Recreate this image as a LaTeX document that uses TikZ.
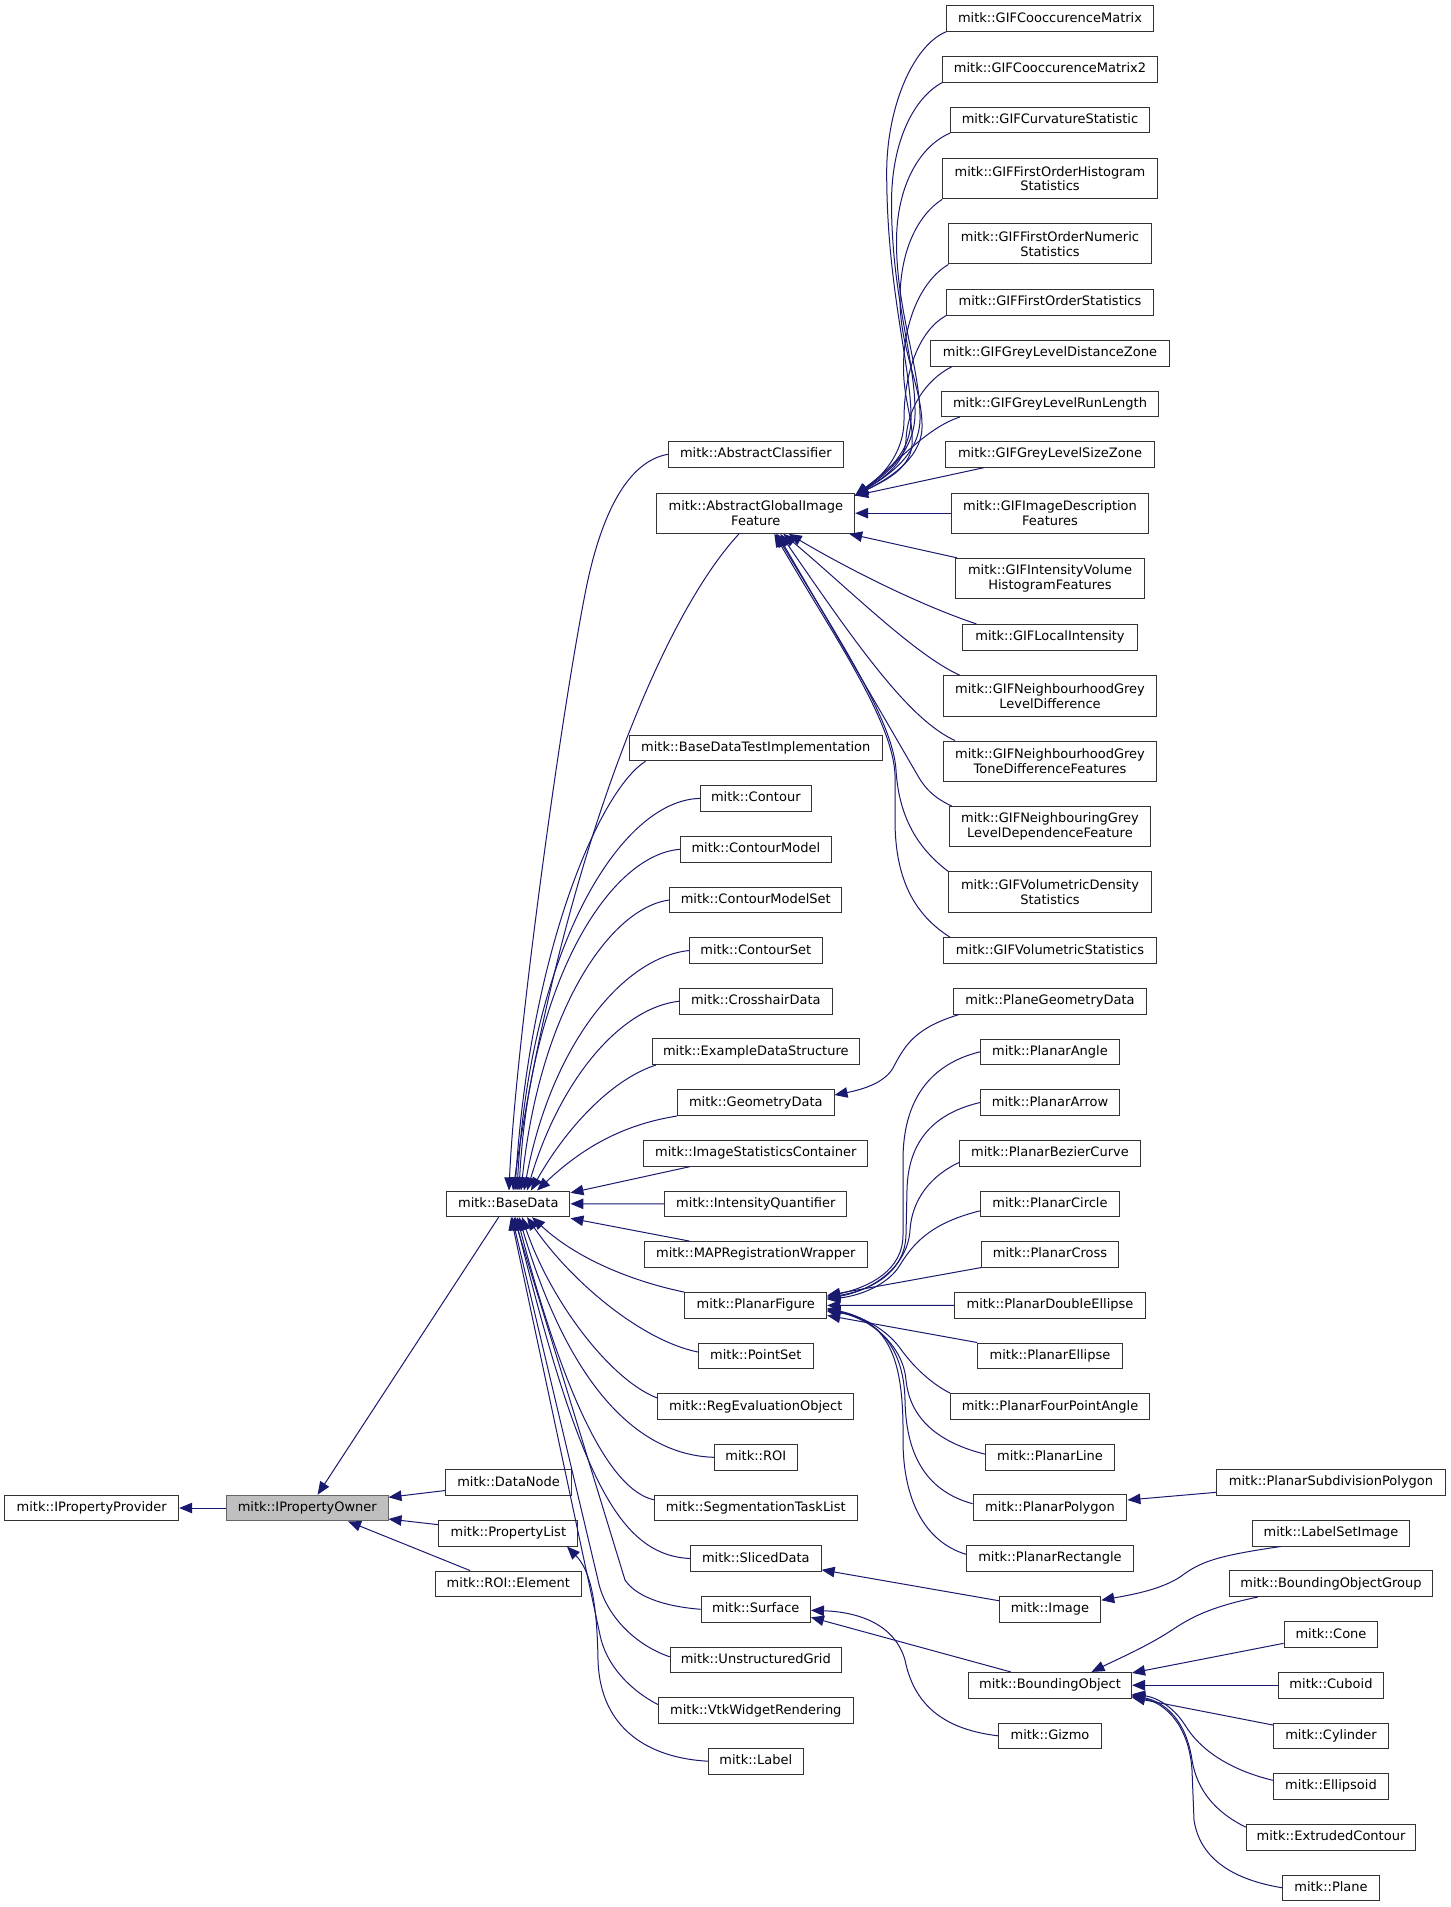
\documentclass[tikz,border=0pt]{standalone}
\usepackage{fontspec}
\setmainfont{DejaVu Sans}
\usetikzlibrary{arrows.meta}
\definecolor{mblue}{HTML}{191970}
\definecolor{bordc}{HTML}{333333}
\definecolor{rootfill}{HTML}{BFBFBF}
\definecolor{rootdraw}{HTML}{666666}
\begin{document}
\begin{tikzpicture}[x=1pt,y=-1pt,
  box/.style={draw=bordc, line width=1pt, fill=white, inner sep=0pt, minimum height=25.6pt,
    font=\fontsize{13pt}{14.7pt}\selectfont, text height=9.6pt, text depth=2.6pt},
  boxtwo/.style={draw=bordc, line width=1pt, fill=white, inner sep=0pt, minimum height=40.3pt,
    font=\fontsize{13pt}{14.7pt}\selectfont, align=center},
  edge/.style={draw=mblue, line width=1pt, -{Triangle[length=13pt,width=10.5pt]}}
]
\fill[white] (0,0) rectangle (1451,1907);
\useasboundingbox (0,0) rectangle (1451,1907);

% ---- column 1 / 2
\node[box, minimum width=174pt] (ipp) at (91.7,1508) {mitk::IPropertyProvider};
\node[box, fill=rootfill, draw=rootdraw, minimum width=161.4pt] (ipo) at (307.3,1508) {mitk::IPropertyOwner};
\node[box, minimum width=125.6pt] (datanode) at (508.6,1482.5) {mitk::DataNode};
\node[box, minimum width=138.9pt] (propertylist) at (508.4,1533.2) {mitk::PropertyList};
\node[box, minimum width=145.8pt] (roielement) at (508.4,1583.8) {mitk::ROI::Element};
\node[box, minimum width=123.3pt] (basedata) at (508.3,1203.8) {mitk::BaseData};

% ---- column 3
\node[box, minimum width=175pt] (abstractclassifier) at (755.8,454.3) {mitk::AbstractClassifier};
\node[boxtwo, minimum width=197.8pt] (agif) at (755.8,513.2) {mitk::AbstractGlobalImage\\Feature};
\node[box, minimum width=253.6pt] (bdti) at (755.8,748) {mitk::BaseDataTestImplementation};
\node[box, minimum width=110.7pt] (contour) at (755.8,798.4) {mitk::Contour};
\node[box, minimum width=151pt] (contourmodel) at (755.8,849.3) {mitk::ContourModel};
\node[box, minimum width=172.2pt] (contourmodelset) at (755.8,900) {mitk::ContourModelSet};
\node[box, minimum width=132.5pt] (contourset) at (755.8,950.5) {mitk::ContourSet};
\node[box, minimum width=152.5pt] (crosshairdata) at (755.8,1001.2) {mitk::CrosshairData};
\node[box, minimum width=206.8pt] (exampledatastructure) at (755.8,1051.7) {mitk::ExampleDataStructure};
\node[box, minimum width=156.4pt] (geometrydata) at (755.8,1102.7) {mitk::GeometryData};
\node[box, minimum width=224.3pt] (imagestatisticscontainer) at (755.8,1153.4) {mitk::ImageStatisticsContainer};
\node[box, minimum width=181.8pt] (intensityquantifier) at (755.8,1203.9) {mitk::IntensityQuantifier};
\node[box, minimum width=222.8pt] (mapregistrationwrapper) at (755.8,1254.4) {mitk::MAPRegistrationWrapper};
\node[box, minimum width=141.8pt] (planarfigure) at (755.8,1305.4) {mitk::PlanarFigure};
\node[box, minimum width=115pt] (pointset) at (755.8,1355.8) {mitk::PointSet};
\node[box, minimum width=196pt] (regevaluationobject) at (755.8,1406.5) {mitk::RegEvaluationObject};
\node[box, minimum width=82.8pt] (roi) at (755.8,1457.3) {mitk::ROI};
\node[box, minimum width=202.8pt] (segmentationtasklist) at (755.8,1507.8) {mitk::SegmentationTaskList};
\node[box, minimum width=130.7pt] (sliceddata) at (755.8,1558.5) {mitk::SlicedData};
\node[box, minimum width=109.3pt] (surface) at (755.8,1609.3) {mitk::Surface};
\node[box, minimum width=171pt] (unstructuredgrid) at (755.8,1659.8) {mitk::UnstructuredGrid};
\node[box, minimum width=195pt] (vtkwidgetrendering) at (755.8,1710.5) {mitk::VtkWidgetRendering};
\node[box, minimum width=95pt] (label) at (755.8,1761.2) {mitk::Label};

% ---- column 4
\node[box, minimum width=206.9pt] (gif1) at (1050,18.5) {mitk::GIFCooccurenceMatrix};
\node[box, minimum width=214.7pt] (gif2) at (1050,69.3) {mitk::GIFCooccurenceMatrix2};
\node[box, minimum width=198.9pt] (gif3) at (1050,119.8) {mitk::GIFCurvatureStatistic};
\node[boxtwo, minimum width=214.7pt] (gif4) at (1050,178.7) {mitk::GIFFirstOrderHistogram\\Statistics};
\node[boxtwo, minimum width=202.1pt] (gif5) at (1050,243.8) {mitk::GIFFirstOrderNumeric\\Statistics};
\node[box, minimum width=206.9pt] (gif6) at (1050,302.3) {mitk::GIFFirstOrderStatistics};
\node[box, minimum width=239pt] (gif7) at (1050,353.3) {mitk::GIFGreyLevelDistanceZone};
\node[box, minimum width=217.5pt] (gif8) at (1050,403.8) {mitk::GIFGreyLevelRunLength};
\node[box, minimum width=208.7pt] (gif9) at (1050,454.3) {mitk::GIFGreyLevelSizeZone};
\node[boxtwo, minimum width=197.8pt] (gif10) at (1050,513.2) {mitk::GIFImageDescription\\Features};
\node[boxtwo, minimum width=188.7pt] (gif11) at (1050,578.5) {mitk::GIFIntensityVolume\\HistogramFeatures};
\node[box, minimum width=174.3pt] (gif12) at (1050,637.2) {mitk::GIFLocalIntensity};
\node[boxtwo, minimum width=212.9pt] (gif13) at (1050,696) {mitk::GIFNeighbourhoodGrey\\LevelDifference};
\node[boxtwo, minimum width=212.9pt] (gif14) at (1050,761.2) {mitk::GIFNeighbourhoodGrey\\ToneDifferenceFeatures};
\node[boxtwo, minimum width=200.7pt] (gif15) at (1050,826.7) {mitk::GIFNeighbouringGrey\\LevelDependenceFeature};
\node[boxtwo, minimum width=202.7pt] (gif16) at (1050,892) {mitk::GIFVolumetricDensity\\Statistics};
\node[box, minimum width=212.9pt] (gif17) at (1050,950.5) {mitk::GIFVolumetricStatistics};
\node[box, minimum width=192.5pt] (planegeometrydata) at (1050,1001.3) {mitk::PlaneGeometryData};
\node[box, minimum width=138.8pt] (planarangle) at (1050,1051.8) {mitk::PlanarAngle};
\node[box, minimum width=138.8pt] (planararrow) at (1050,1102.5) {mitk::PlanarArrow};
\node[box, minimum width=180.3pt] (planarbeziercurve) at (1050,1153.3) {mitk::PlanarBezierCurve};
\node[box, minimum width=138.8pt] (planarcircle) at (1050,1203.8) {mitk::PlanarCircle};
\node[box, minimum width=137.3pt] (planarcross) at (1050,1254.3) {mitk::PlanarCross};
\node[box, minimum width=190.8pt] (planardoubleellipse) at (1050,1305.3) {mitk::PlanarDoubleEllipse};
\node[box, minimum width=144.7pt] (planarellipse) at (1050,1355.8) {mitk::PlanarEllipse};
\node[box, minimum width=198.5pt] (planarfourpointangle) at (1050,1406.5) {mitk::PlanarFourPointAngle};
\node[box, minimum width=128.6pt] (planarline) at (1050,1457.2) {mitk::PlanarLine};
\node[box, minimum width=153.9pt] (planarpolygon) at (1050,1507.7) {mitk::PlanarPolygon};
\node[box, minimum width=166.9pt] (planarrectangle) at (1050,1558.3) {mitk::PlanarRectangle};
\node[box, minimum width=101.5pt] (image) at (1050,1609.2) {mitk::Image};
\node[box, minimum width=163.1pt] (boundingobject) at (1050,1685.2) {mitk::BoundingObject};
\node[box, minimum width=102.9pt] (gizmo) at (1050,1735.8) {mitk::Gizmo};

% ---- column 5
\node[box, minimum width=228.3pt] (planarsubdivisionpolygon) at (1331,1482.3) {mitk::PlanarSubdivisionPolygon};
\node[box, minimum width=157.1pt] (labelsetimage) at (1331,1533.2) {mitk::LabelSetImage};
\node[box, minimum width=203.1pt] (boundingobjectgroup) at (1331,1583.7) {mitk::BoundingObjectGroup};
\node[box, minimum width=93.8pt] (cone) at (1331,1634.5) {mitk::Cone};
\node[box, minimum width=105.4pt] (cuboid) at (1331,1685.2) {mitk::Cuboid};
\node[box, minimum width=115.2pt] (cylinder) at (1331,1735.8) {mitk::Cylinder};
\node[box, minimum width=115.2pt] (ellipsoid) at (1331,1786.3) {mitk::Ellipsoid};
\node[box, minimum width=169.3pt] (extrudedcontour) at (1331,1837.2) {mitk::ExtrudedContour};
\node[box, minimum width=96.3pt] (plane) at (1331,1887.8) {mitk::Plane};

% ================= edges
% IPropertyOwner group
\draw[edge] (ipo.west) -- (ipp.east);
\draw[edge] ([yshift=-8pt]datanode.west) -- ([yshift=10.7pt]ipo.east);
\draw[edge] ([yshift=8.5pt]propertylist.west) -- ([yshift=-11pt]ipo.east);
\draw[edge] ([xshift=-38.4pt]roielement.north) -- ([xshift=40.7pt]ipo.south);
\draw[edge] ([xshift=-9.6pt]basedata.south) -- ([xshift=10.3pt]ipo.north);
\draw[edge] (label.west) .. controls (650,1758) and (600,1730) .. (598,1660)
  .. controls (597,1600) and (590,1570) .. ([xshift=58.6pt]propertylist.south);

% BaseData children (upper)
\draw[edge] (abstractclassifier.west) .. controls (625,462) and (600,520) .. (586,589)
  .. controls (560,720) and (515,1050) .. ([xshift=0.7pt]basedata.north);
\draw[edge] ([xshift=-16.8pt]agif.south) .. controls (650,630) and (555,900) .. ([xshift=4.7pt]basedata.north);
\draw[edge] ([xshift=17pt]bdti.south west) .. controls (600,790) and (530,950) .. ([xshift=6.7pt]basedata.north);
\draw[edge] (contour.west) .. controls (620,800) and (530,950) .. ([xshift=8.7pt]basedata.north);
\draw[edge] (contourmodel.west) .. controls (610,855) and (530,980) .. ([xshift=10.7pt]basedata.north);
\draw[edge] (contourmodelset.west) .. controls (610,908) and (540,1010) .. ([xshift=12.7pt]basedata.north);
\draw[edge] (contourset.west) .. controls (620,958) and (550,1050) .. ([xshift=15.7pt]basedata.north);
\draw[edge] (crosshairdata.west) .. controls (620,1008) and (560,1080) .. ([xshift=18.7pt]basedata.north);
\draw[edge] ([xshift=4pt]exampledatastructure.south west) .. controls (610,1080) and (565,1130) .. ([xshift=22.7pt]basedata.north);
\draw[edge] (geometrydata.south west) .. controls (620,1125) and (580,1150) .. ([xshift=28.7pt]basedata.north);
\draw[edge] ([xshift=46.5pt]imagestatisticscontainer.south west) -- ([yshift=11pt]basedata.east);
\draw[edge] (intensityquantifier.west) -- (basedata.east);
\draw[edge] ([xshift=45.7pt]mapregistrationwrapper.north west) -- ([yshift=-14.5pt]basedata.east);
% BaseData children (lower)
\draw[edge] (planarfigure.north west) .. controls (640,1283) and (580,1262) .. ([xshift=23.7pt]basedata.south);
\draw[edge] ([yshift=3.8pt]pointset.west) .. controls (640,1340) and (570,1280) .. ([xshift=18.7pt]basedata.south);
\draw[edge] ([yshift=8.5pt]regevaluationobject.west) .. controls (610,1380) and (550,1300) .. ([xshift=13.7pt]basedata.south);
\draw[edge] (roi.west) .. controls (640,1455) and (570,1390) .. ([xshift=10.7pt]basedata.south);
\draw[edge] ([yshift=8pt]segmentationtasklist.west) .. controls (610,1490) and (565,1400) .. ([xshift=8.7pt]basedata.south);
\draw[edge] (sliceddata.west) .. controls (620,1555) and (580,1480) .. ([xshift=6.7pt]basedata.south);
\draw[edge] (surface.west) .. controls (660,1606) and (635,1595) .. (625,1580) -- ([xshift=5.7pt]basedata.south);
\draw[edge] ([yshift=3pt]unstructuredgrid.west) .. controls (635,1645) and (605,1615) .. (598,1580) -- ([xshift=3.7pt]basedata.south);
\draw[edge] ([yshift=6pt]vtkwidgetrendering.west) .. controls (630,1690) and (606,1665) .. (600,1635) -- ([xshift=2.7pt]basedata.south);

% AbstractGlobalImageFeature children
\coordinate (tipU) at ([yshift=-3pt]agif.north east);
\draw[edge] (gif1.south west) .. controls (912,46) and (886,110) .. (886.7,175)
  .. controls (887,290) and (912,370) .. (911,420) .. controls (910,458) and (880,476) .. (tipU);
\draw[edge] (gif2.south west) .. controls (915,97) and (891,140) .. (891.5,205)
  .. controls (892,300) and (916,360) .. (915,415) .. controls (914,455) and (882,477) .. (tipU);
\draw[edge] (gif3.south west) .. controls (920,146) and (897,185) .. (896.5,240)
  .. controls (896,310) and (921,370) .. (920,420) .. controls (919,457) and (884,478) .. (tipU);
\draw[edge] (gif4.south west) .. controls (918,215) and (900,250) .. (900,300)
  .. controls (900,350) and (923,390) .. (922,428) .. controls (921,460) and (886,480) .. (tipU);
\draw[edge] (gif5.south west) .. controls (922,280) and (904,320) .. (903.5,365)
  .. controls (903,400) and (914,420) .. (912,445) .. controls (910,470) and (882,482) .. (tipU);
\draw[edge] (gif6.south west) .. controls (920,330) and (904,370) .. (904,420)
  .. controls (904,455) and (880,478) .. (tipU);
\draw[edge] ([xshift=22pt]gif7.south west) .. controls (925,380) and (907,410) .. (906,440)
  .. controls (905,465) and (880,480) .. (tipU);
\draw[edge] ([xshift=19pt]gif8.south west) .. controls (925,428) and (890,470) .. (tipU);
\draw[edge] ([xshift=39pt]gif9.south west) -- (tipU);
\draw[edge] (gif10.west) -- (agif.east);
\draw[edge] ([xshift=2pt]gif11.north west) -- ([xshift=-6pt]agif.south east);
\draw[edge] ([xshift=14pt]gif12.north west) .. controls (920,605) and (850,570) .. ([xshift=33pt]agif.south);
\draw[edge] ([xshift=17pt]gif13.north west) .. controls (915,655) and (850,590) .. ([xshift=27.5pt]agif.south);
\draw[edge] ([xshift=12pt]gif14.north west) .. controls (910,720) and (860,650) .. ([xshift=24.5pt]agif.south);
\draw[edge] ([xshift=2.5pt]gif15.north west) .. controls (935,798) and (926,790) .. (918,776)
  .. controls (871,695) and (824,614) .. ([xshift=21.5pt]agif.south);
\draw[edge] (gif16.north west) .. controls (920,850) and (899,820) .. (896,770)
  .. controls (893,720) and (835,633) .. ([xshift=20pt]agif.south);
\draw[edge] ([xshift=7pt]gif17.north west) .. controls (915,915) and (895,880) .. (895,820) -- (895,775)
  .. controls (893,720) and (830,630) .. ([xshift=18.5pt]agif.south);

% GeometryData
\draw[edge] ([xshift=5.5pt]planegeometrydata.south west) .. controls (915,1028) and (905,1045) .. (893,1068)
  .. controls (885,1082) and (865,1089) .. ([yshift=7.7pt]geometrydata.east);

% PlanarFigure children
\draw[edge] (planarangle.west) .. controls (930,1064) and (903,1100) .. (903,1160) -- (903,1235)
  .. controls (903,1270) and (870,1287) .. ([yshift=9pt]planarfigure.east);
\draw[edge] (planararrow.west) .. controls (935,1113) and (908,1140) .. (907,1190) -- (906,1235)
  .. controls (905,1272) and (872,1290) .. ([yshift=8pt]planarfigure.east);
\draw[edge] ([yshift=-9pt]planarbeziercurve.west) .. controls (930,1176) and (912,1200) .. (910,1230)
  .. controls (908,1265) and (875,1290) .. ([yshift=7pt]planarfigure.east);
\draw[edge] ([yshift=-7pt]planarcircle.west) .. controls (935,1222) and (915,1240) .. (900,1265)
  .. controls (890,1282) and (865,1295) .. ([yshift=6pt]planarfigure.east);
\draw[edge] (planarcross.south west) -- ([yshift=10pt]planarfigure.east);
\draw[edge] (planardoubleellipse.west) -- (planarfigure.east);
\draw[edge] (planarellipse.north west) -- ([yshift=-10pt]planarfigure.east);
\draw[edge] (planarfourpointangle.north west) .. controls (930,1383) and (912,1365) .. (900,1348)
  .. controls (885,1328) and (860,1315) .. ([yshift=-6pt]planarfigure.east);
\draw[edge] ([yshift=3pt]planarline.west) .. controls (940,1443) and (910,1420) .. (906,1380)
  .. controls (903,1345) and (870,1318) .. ([yshift=-5pt]planarfigure.east);
\draw[edge] ([yshift=4pt]planarpolygon.west) .. controls (930,1492) and (906,1460) .. (905,1400)
  .. controls (904,1350) and (880,1320) .. ([yshift=-4pt]planarfigure.east);
\draw[edge] ([yshift=4pt]planarrectangle.west) .. controls (925,1542) and (903,1500) .. (903,1440)
  .. controls (904,1360) and (890,1322) .. ([yshift=-3pt]planarfigure.east);
\draw[edge] ([yshift=-10pt]planarsubdivisionpolygon.west) -- ([yshift=7.7pt]planarpolygon.east);

% Image, Surface, BoundingObject
\draw[edge] ([yshift=8.5pt]image.west) -- ([yshift=2pt]sliceddata.south east);
\draw[edge] ([xshift=28.8pt]labelsetimage.south west) .. controls (1215,1556) and (1200,1562) .. (1180,1577)
  .. controls (1160,1590) and (1130,1595) .. ([yshift=9pt]image.east);
\draw[edge] ([xshift=-39.3pt]boundingobject.north) -- ([yshift=-8pt]surface.east);
\draw[edge] (gizmo.west) .. controls (950,1730) and (915,1710) .. (905,1660)
  .. controls (895,1625) and (860,1612) .. ([yshift=-1pt]surface.east);
\draw[edge] ([xshift=28.8pt]boundingobjectgroup.south west) .. controls (1215,1606) and (1195,1615) .. (1175,1628)
  .. controls (1150,1645) and (1120,1658) .. ([xshift=41.5pt]boundingobject.north);
\draw[edge] ([yshift=-8.8pt]cone.west) -- ([yshift=-1pt]boundingobject.north east);
\draw[edge] (cuboid.west) -- (boundingobject.east);
\draw[edge] ([yshift=10.8pt]cylinder.west) -- ([yshift=1pt]boundingobject.south east);
\draw[edge] ([yshift=6pt]ellipsoid.west) .. controls (1230,1770) and (1200,1750) .. (1185,1725)
  .. controls (1172,1705) and (1155,1697) .. ([yshift=-9pt]boundingobject.east);
\draw[edge] ([yshift=10pt]extrudedcontour.west) .. controls (1215,1812) and (1197,1790) .. (1192,1760)
  .. controls (1186,1720) and (1165,1702) .. ([yshift=-10pt]boundingobject.east);
\draw[edge] (plane.west) .. controls (1235,1880) and (1200,1860) .. (1194,1820) -- (1192,1770)
  .. controls (1189,1725) and (1165,1703) .. ([yshift=-11pt]boundingobject.east);
\end{tikzpicture}
\end{document}
